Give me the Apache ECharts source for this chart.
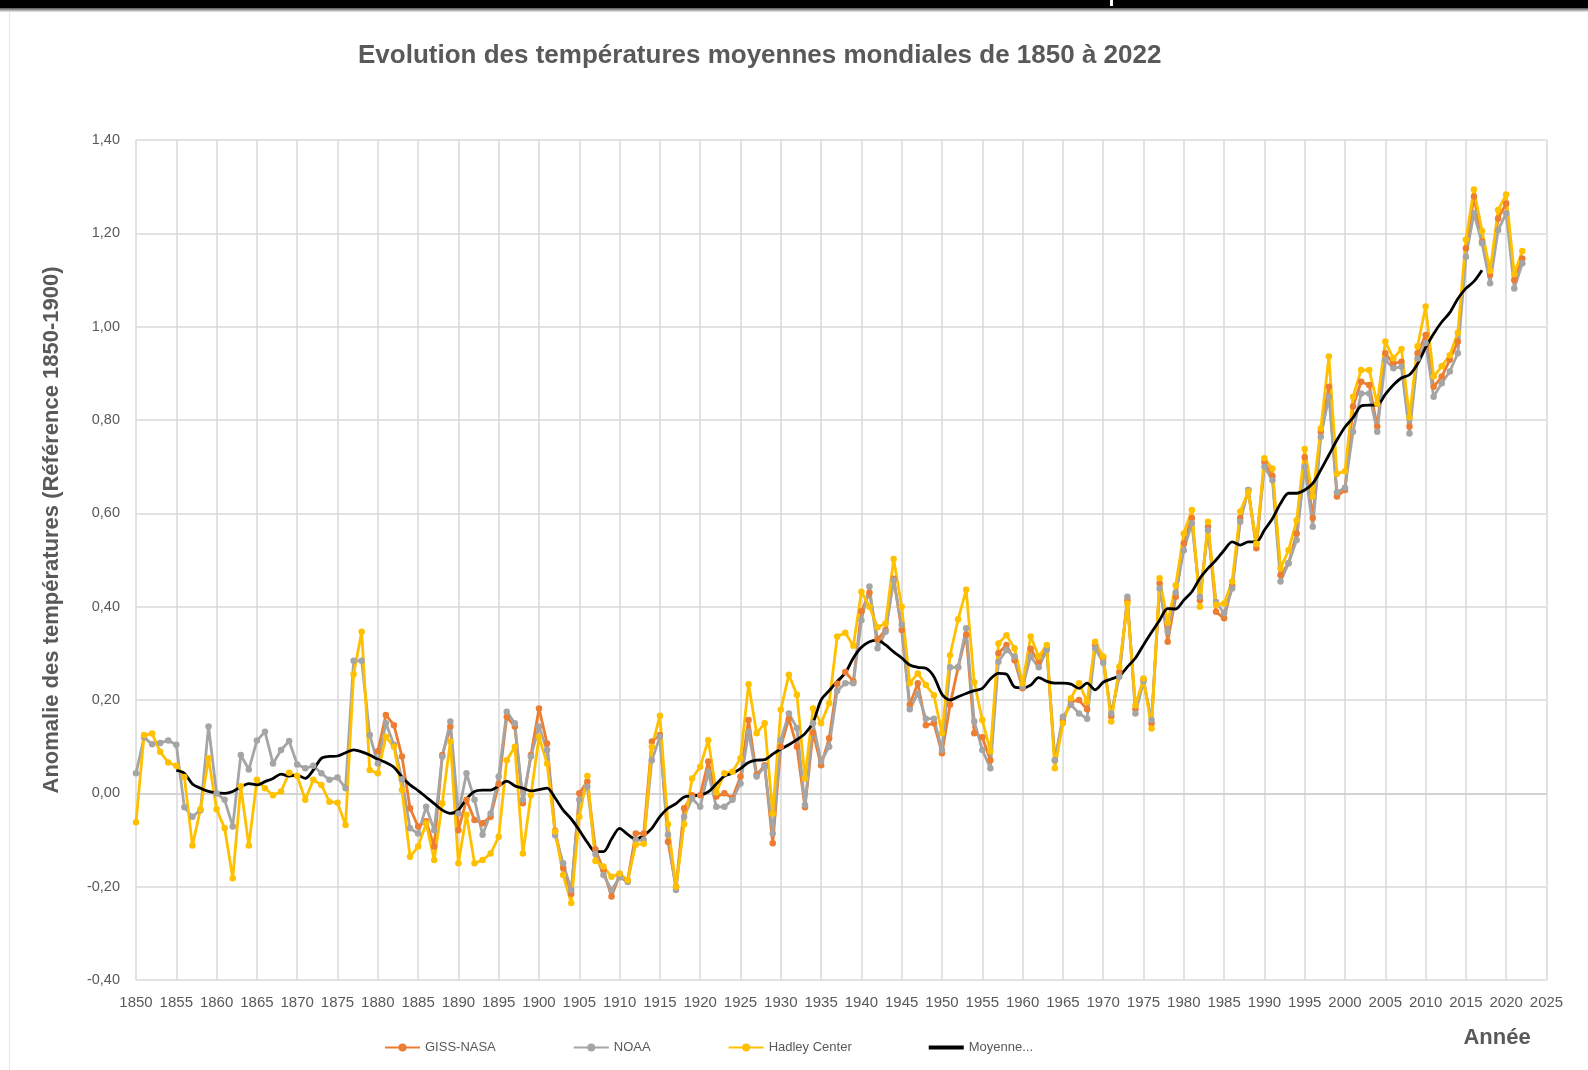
<!DOCTYPE html>
<html>
<head>
<meta charset="utf-8">
<script src="https://cdn.jsdelivr.net/npm/echarts@6/dist/echarts.min.js"></script>
<style>
html,body{margin:0;padding:0;background:#fff;}
#chart{width:1588px;height:1070px;}
</style>
</head>
<body>
<div id="chart"></div>
<script>
// ---- Data (anomalies, °C, reference 1850-1900) ----
const hadleyStart = 1850;
const hadley = [
 -0.062,0.125,0.128,0.089,0.066,0.059,0.035,-0.112,-0.034,0.075,
 -0.034,-0.075,-0.182,0.015,-0.112,0.029,0.011,-0.004,0.004,0.044,
 0.037,-0.014,0.029,0.018,-0.018,-0.020,-0.068,0.255,0.346,0.050,
 0.043,0.121,0.100,0.007,-0.136,-0.114,-0.064,-0.143,-0.021,0.111,
 -0.150,-0.046,-0.150,-0.143,-0.129,-0.093,0.071,0.100,-0.129,-0.004,
 0.121,0.064,-0.082,-0.175,-0.235,-0.050,0.037,-0.145,-0.157,-0.179,
 -0.172,-0.186,-0.110,-0.108,0.100,0.166,-0.066,-0.200,-0.066,0.032,
 0.057,0.114,0.002,0.043,0.046,0.075,0.234,0.129,0.150,-0.043,
 0.179,0.254,0.211,0.032,0.182,0.150,0.193,0.336,0.344,0.316,
 0.432,0.400,0.356,0.364,0.502,0.400,0.236,0.257,0.232,0.210,
 0.129,0.296,0.373,0.436,0.238,0.157,0.090,0.321,0.339,0.311,
 0.236,0.336,0.293,0.318,0.054,0.150,0.204,0.236,0.196,0.325,
 0.293,0.154,0.271,0.407,0.189,0.246,0.139,0.461,0.366,0.446,
 0.557,0.607,0.400,0.582,0.404,0.407,0.454,0.604,0.646,0.535,
 0.718,0.696,0.482,0.521,0.585,0.738,0.636,0.782,0.936,0.685,
 0.690,0.850,0.907,0.907,0.835,0.968,0.932,0.952,0.806,0.958,
 1.043,0.893,0.915,0.939,0.987,1.187,1.294,1.205,1.120,1.250,
 1.283,1.113,1.162
];
const noaaStart = 1850;
const noaa = [
 0.043,0.120,0.105,0.108,0.113,0.104,-0.030,-0.050,-0.036,0.143,
 0.000,-0.014,-0.071,0.082,0.051,0.113,0.132,0.064,0.093,0.112,
 0.062,0.054,0.059,0.043,0.029,0.034,0.011,0.284,0.284,0.125,
 0.064,0.150,0.104,0.030,-0.075,-0.086,-0.029,-0.079,0.079,0.154,
 -0.043,0.043,-0.014,-0.089,-0.043,0.036,0.175,0.150,-0.014,0.079,
 0.143,0.093,-0.090,-0.150,-0.207,-0.014,0.014,-0.130,-0.175,-0.207,
 -0.180,-0.190,-0.100,-0.100,0.071,0.121,-0.089,-0.207,-0.050,-0.011,
 -0.029,0.045,-0.029,-0.029,-0.014,0.021,0.132,0.036,0.057,-0.086,
 0.114,0.171,0.140,-0.025,0.150,0.068,0.100,0.220,0.236,0.236,
 0.371,0.443,0.311,0.346,0.457,0.361,0.180,0.214,0.160,0.160,
 0.093,0.270,0.270,0.354,0.154,0.093,0.054,0.282,0.307,0.293,
 0.229,0.293,0.270,0.307,0.071,0.164,0.190,0.171,0.160,0.311,
 0.280,0.171,0.250,0.421,0.171,0.240,0.157,0.439,0.346,0.430,
 0.521,0.579,0.421,0.564,0.410,0.386,0.439,0.582,0.650,0.535,
 0.700,0.671,0.454,0.493,0.543,0.700,0.571,0.764,0.850,0.645,
 0.655,0.775,0.857,0.857,0.775,0.929,0.911,0.914,0.771,0.932,
 0.965,0.850,0.879,0.904,0.943,1.150,1.243,1.179,1.093,1.207,
 1.243,1.082,1.136
];
const gissStart = 1880;
const giss = [
 0.090,0.168,0.146,0.079,-0.032,-0.071,-0.060,-0.114,0.082,0.143,
 -0.079,-0.014,-0.057,-0.064,-0.050,0.020,0.164,0.143,-0.021,0.082,
 0.182,0.107,-0.080,-0.160,-0.215,0.000,0.025,-0.120,-0.165,-0.221,
 -0.175,-0.186,-0.086,-0.086,0.111,0.125,-0.104,-0.200,-0.032,-0.004,
 -0.004,0.068,-0.007,0.000,-0.010,0.036,0.157,0.040,0.060,-0.107,
 0.100,0.160,0.100,-0.030,0.130,0.060,0.118,0.235,0.260,0.240,
 0.390,0.430,0.330,0.350,0.460,0.350,0.190,0.236,0.146,0.150,
 0.086,0.190,0.270,0.340,0.129,0.120,0.071,0.300,0.318,0.285,
 0.225,0.310,0.280,0.310,0.071,0.157,0.196,0.200,0.180,0.318,
 0.290,0.165,0.260,0.414,0.180,0.243,0.150,0.450,0.325,0.421,
 0.536,0.590,0.414,0.571,0.389,0.375,0.445,0.590,0.650,0.525,
 0.710,0.680,0.468,0.493,0.557,0.720,0.590,0.775,0.871,0.636,
 0.650,0.829,0.882,0.875,0.786,0.943,0.921,0.925,0.786,0.943,
 0.982,0.871,0.893,0.929,0.968,1.168,1.279,1.182,1.111,1.232,
 1.264,1.100,1.146
];
const meanStart = 1855;
const moyenne = [
 0.049,0.043,0.020,0.011,0.004,0.001,0.000,0.004,0.014,0.021,
 0.018,0.025,0.032,0.041,0.037,0.039,0.032,0.050,0.075,0.079,
 0.080,0.087,0.093,0.089,0.082,0.073,0.066,0.056,0.035,0.018,
 0.006,-0.008,-0.022,-0.036,-0.043,-0.036,-0.012,0.004,0.007,0.007,
 0.016,0.026,0.016,0.011,0.005,0.008,0.011,-0.010,-0.036,-0.055,
 -0.079,-0.105,-0.125,-0.125,-0.098,-0.075,-0.088,-0.098,-0.090,-0.075,
 -0.050,-0.032,-0.022,-0.008,-0.005,-0.004,0.003,0.020,0.037,0.043,
 0.053,0.066,0.071,0.072,0.084,0.095,0.104,0.115,0.128,0.152,
 0.200,0.220,0.240,0.258,0.290,0.313,0.325,0.328,0.318,0.303,
 0.290,0.275,0.270,0.268,0.250,0.212,0.200,0.207,0.214,0.220,
 0.225,0.245,0.257,0.255,0.228,0.226,0.232,0.248,0.240,0.236,
 0.236,0.234,0.225,0.236,0.222,0.238,0.245,0.252,0.271,0.290,
 0.318,0.345,0.371,0.396,0.395,0.414,0.432,0.461,0.482,0.500,
 0.521,0.539,0.532,0.539,0.539,0.564,0.589,0.621,0.643,0.643,
 0.650,0.664,0.693,0.725,0.757,0.785,0.805,0.830,0.832,0.832,
 0.855,0.875,0.890,0.897,0.920,0.955,0.985,1.010,1.030,1.060,
 1.082,1.097,1.121
];
const seriesNames = ['GISS-NASA','NOAA','Hadley Center','Moyenne...'];
const yTicks = {min:-0.4, max:1.4, step:0.2};
const xTicks = {min:1850, max:2025, step:5};

function pairs(start, vals){ return vals.map((v,i)=>[start+i, v]); }

const chart = echarts.init(document.getElementById('chart'), null, {renderer:'canvas'});
const FONT = '"Liberation Sans", Arial, sans-serif';
const mk = (name, start, vals, color) => ({
  name, type:'line', data:pairs(start, vals),
  symbol:'circle', symbolSize:6.5, showSymbol:true,
  lineStyle:{color, width:2.8}, itemStyle:{color},
  emphasis:{disabled:true}
});
chart.setOption({
  animation:false,
  backgroundColor:'#ffffff',
  title:{
    text:'Evolution des températures moyennes mondiales de 1850 à 2022',
    left:358, top:43, padding:0,
    textStyle:{fontFamily:FONT, fontSize:26, fontWeight:'bold', color:'#595959'}
  },
  grid:{left:136, right:41.5, top:140, bottom:90, containLabel:false},
  xAxis:{
    type:'value', min:xTicks.min, max:xTicks.max, interval:xTicks.step,
    axisLine:{lineStyle:{color:'#d0d0d0', width:1.5}},
    axisTick:{show:false},
    axisLabel:{formatter:v=>String(v), fontFamily:FONT, fontSize:15, color:'#595959', margin:15},
    splitLine:{show:true, lineStyle:{color:'#d9d9d9', width:1.5}}
  },
  yAxis:{
    type:'value', min:yTicks.min, max:yTicks.max, interval:yTicks.step,
    axisLine:{show:false}, axisTick:{show:false},
    axisLabel:{formatter:v=>{ if(Math.abs(v)<1e-9) v=0; return v.toFixed(2).replace('.', ','); },
      fontFamily:FONT, fontSize:14.5, color:'#595959', margin:16},
    splitLine:{show:true, lineStyle:{color:'#d9d9d9', width:1.5}}
  },
  legend:{
    data:[
      seriesNames[0], seriesNames[1], seriesNames[2],
      {name:seriesNames[3], icon:'path://M0,0H35V4H0Z', symbolKeepAspect:true, itemStyle:{color:'#000'}}
    ],
    left:379, top:1036, itemWidth:35, itemHeight:10, itemGap:77, symbolKeepAspect:true,
    textStyle:{fontFamily:FONT, fontSize:13, color:'#595959'}
  },
  series:[
    mk(seriesNames[0], gissStart, giss, '#ED7D31'),
    mk(seriesNames[1], noaaStart, noaa, '#A5A5A5'),
    mk(seriesNames[2], hadleyStart, hadley, '#FFC000'),
    {name:seriesNames[3], type:'line', data:pairs(meanStart, moyenne), symbol:'none',
     smooth:0.3, lineStyle:{color:'#000000', width:2.8}, itemStyle:{color:'#000000'},
     emphasis:{disabled:true}}
  ],
  graphic:[
    {type:'rect', shape:{x:0,y:0,width:1588,height:8}, style:{fill:'#000'}},
    {type:'rect', shape:{x:0,y:8,width:1588,height:4},
     style:{fill:new echarts.graphic.LinearGradient(0,0,0,1,[{offset:0,color:'#555'},{offset:1,color:'#eee'}])}},
    {type:'rect', shape:{x:1110,y:0,width:3,height:6}, style:{fill:'#fff'}},
    {type:'rect', shape:{x:9,y:12,width:1,height:1058}, style:{fill:'#e6e6e6'}},
    {type:'text', x:52, y:530, rotation:Math.PI/2,
     style:{text:'Anomalie des températures (Référence 1850-1900)', font:'bold 22px "Liberation Sans", Arial, sans-serif',
       fill:'#595959', align:'center', verticalAlign:'middle'}},
    {type:'text', x:1497, y:1038,
     style:{text:'Année', font:'bold 22px "Liberation Sans", Arial, sans-serif',
       fill:'#595959', align:'center', verticalAlign:'middle'}}
  ]
});
</script>
</body>
</html>
